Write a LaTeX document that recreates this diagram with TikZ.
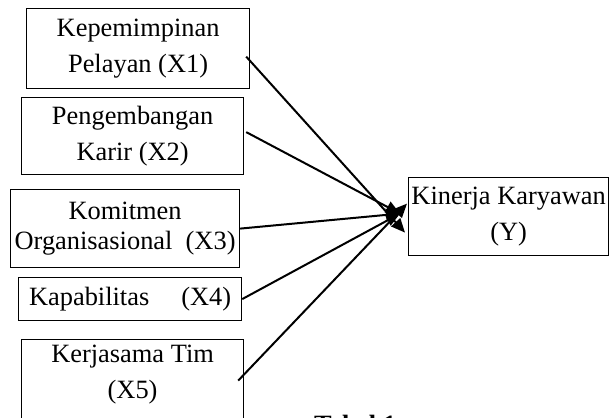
\documentclass[tikz,border=0pt]{standalone}
\usepackage{fontspec}
\setmainfont{Liberation Serif}
\usetikzlibrary{positioning}
\usetikzlibrary{arrows.meta}

\begin{document}
\begin{tikzpicture}[x=0.5pt,y=-0.5pt,
        varbox/.style={draw=black, line width=0.6pt, anchor=north west, inner sep=0pt,
            align=center, font=\fontsize{13.2}{18}\selectfont},
        link/.style={-{Triangle[length=7pt,width=6pt]}, line width=1pt}]
        \useasboundingbox (0,0) rectangle (609,417);
        \clip (0,0) rectangle (609,417);

        % variabel bebas
        \node[varbox, minimum width=111.5pt, minimum height=40pt] (X1) at (26,8) {Kepemimpinan\\Pelayan (X1)};
        \node[varbox, minimum width=111pt, minimum height=38.5pt] (X2) at (21,97) {Pengembangan\\Karir (X2)};
        \node[varbox, minimum width=114.5pt, minimum height=39pt, font=\fontsize{13.2}{15}\selectfont] (X3) at (10,189) {Komitmen\\Organisasional\ \ (X3)};
        \node[varbox, minimum width=111.5pt, minimum height=21.5pt] (X4) at (18,277) {Kapabilitas\hspace{16pt}(X4)};
        \node[varbox, minimum width=111pt, minimum height=42pt, text depth=9.5pt] (X5) at (21,339) {Kerjasama Tim\\(X5)};

        % variabel terikat
        \node[varbox, minimum width=100pt, minimum height=39pt] (Y) at (408,177) {Kinerja Karyawan\\(Y)};

        \coordinate (hub) at ([shift={(-4pt,1.5pt)}]Y.west);
        \coordinate (tipA) at ([shift={(-1.5pt,-8pt)}]Y.west);
        \coordinate (tipB) at ([shift={(-0.5pt,6.5pt)}]Y.west);

        \draw[link] ([shift={(-2pt,-4pt)}]X1.east) -- (tipA);
        \draw[link] ([shift={(1pt,2pt)}]X2.east) -- (hub);
        \draw[link] (X3.east) -- (hub);
        \draw[link] (X4.east) -- (hub);
        \draw[link] ([shift={(-3pt,0.5pt)}]X5.east) -- (tipB);

        \node[anchor=base west, font=\fontsize{13.2}{18}\selectfont\bfseries] (tab) at (307,433) {Tabel 1};
\end{tikzpicture}
\end{document}
